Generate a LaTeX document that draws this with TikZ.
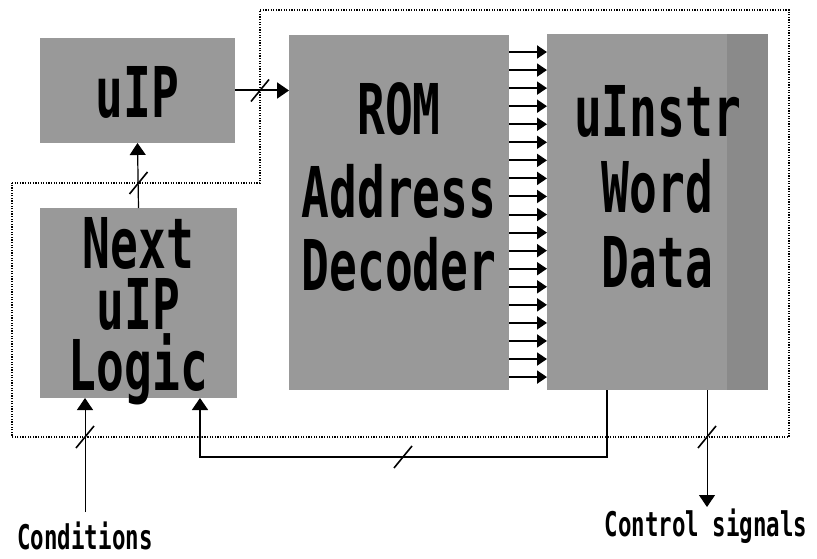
\documentclass[tikz,border=0pt]{standalone}
\usepackage{fontspec}
\newfontfamily\pixfont{DejaVu Sans Mono}[FakeStretch=0.66]
\usetikzlibrary{arrows.meta}

\tikzset{
  block/.style={fill=black!40, draw=none, inner sep=0pt, outer sep=0pt},
  bigtxt/.style={font=\pixfont\bfseries\fontsize{70}{61}\selectfont, inner sep=0pt, anchor=base},
  smalltxt/.style={font=\pixfont\bfseries\fontsize{34}{34}\selectfont, inner sep=0pt, anchor=base},
  border/.style={line width=1.2pt, dash pattern=on 1.2pt off 1.4pt},
  bus/.style={line width=2pt, -{Triangle[length=12pt,width=16pt]}},
  thinbus/.style={line width=1.2pt, -{Triangle[length=12pt,width=16pt]}},
  decline/.style={line width=2pt, -{Triangle[length=10pt,width=13pt]}},
  wire/.style={line width=1pt, -{Triangle[length=12pt,width=16pt]}},
  busmark/.pic={\draw[line width=1.6pt] (-9,11) -- (9,-11);}
}

\begin{document}
\begin{tikzpicture}[x=1pt, y=-1pt]
  \useasboundingbox (0,0) rectangle (817,559);

  % dotted outline of the sequencer part
  \coordinate (b1) at (12,183);
  \coordinate (b2) at (260,183);
  \coordinate (b3) at (260,10);
  \coordinate (b4) at (789,10);
  \coordinate (b5) at (789,437);
  \coordinate (b6) at (12,437);
  \draw[border] (b1) -- (b2) -- (b3) -- (b4) -- (b5) -- (b6) -- cycle;

  % blocks
  \node[block, minimum width=195pt, minimum height=105pt] (uip)   at (137.5,90.5) {};
  \node[block, minimum width=197pt, minimum height=190pt] (logic) at (138.5,303) {};
  \node[block, minimum width=220pt, minimum height=355pt] (rom)   at (399,212.5) {};
  \node[block, minimum width=221pt, minimum height=356pt] (instr) at (657.5,212) {};
  % denser shading along the right edge of the word block
  \fill[black!46] ([xshift=-41pt]instr.north east) rectangle (instr.south east);

  % block labels
  \node[bigtxt] (tuip)   at (137.5,118) {uIP};
  \node[bigtxt] (trom)   at (399,135) {ROM};
  \node[bigtxt] (taddr)  at (399,218) {Address};
  \node[bigtxt] (tdec)   at (399,290) {Decoder};
  \node[bigtxt] (tinstr) at (657.5,137) {uInstr};
  \node[bigtxt] (tword)  at (657.5,212) {Word};
  \node[bigtxt] (tdata)  at (657.5,287) {Data};
  \node[bigtxt, anchor=north, align=center] (tlogic) at (138.5,217) {Next\\uIP\\Logic};

  % outside labels
  \node[smalltxt] (cond) at (85,549) {Conditions};
  \node[smalltxt] (ctrl) at (706,536) {Control signals};
  \coordinate (condin) at (85,512);
  \coordinate (ctrlout) at (707,507);

  % uIP -> ROM address decoder
  \draw[bus] (uip.east) -- (uip.east -| rom.west);
  \pic at (260,90.5) {busmark};

  % next uIP logic -> uIP
  \draw[thinbus] (logic.north) -- (uip.south);
  \pic at (138.5,183) {busmark};

  % decoder word lines
  \foreach \i in {0,...,18}{
    \pgfmathsetmacro\yy{52+18.06*\i}
    \draw[decline] (rom.east |- 0,\yy) -- (instr.west |- 0,\yy);
  }

  % condition inputs
  \draw[wire] (condin) -- (condin |- logic.south);
  \pic at (85,437) {busmark};

  % next-address field fed back to the logic
  \coordinate (fb1) at (607,457);
  \coordinate (fb2) at (200,457);
  \draw[line width=1.6pt, -{Triangle[length=12pt,width=16pt]}]
    (instr.south -| fb1) -- (fb1) -- (fb2) -- (fb2 |- logic.south);
  \pic at (403,457) {busmark};
  \fill (607,437) circle (1.8pt);
  \fill (200,437) circle (1.8pt);

  % control outputs
  \draw[wire] (instr.south -| ctrlout) -- (ctrlout);
  \pic at (707,437) {busmark};
\end{tikzpicture}
\end{document}
